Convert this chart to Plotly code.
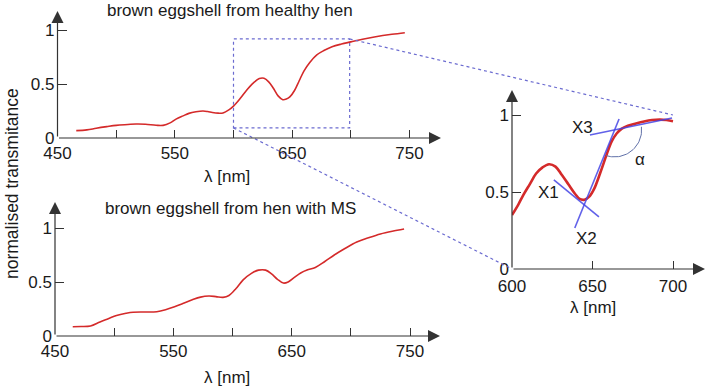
import numpy as np
import plotly.graph_objects as go

W, H = 709, 388

# ---------------- data ----------------
healthy_wl = [466, 475, 483, 492, 500, 510, 517, 525, 534, 540, 546, 551, 557, 562, 568, 574,
              578, 582, 587, 591, 596, 600, 606, 611, 617, 622, 626, 630, 634, 638, 642, 645,
              648, 652, 656, 660, 665, 671, 677, 684, 692, 700, 710, 720, 735, 746]
healthy_t = [0.068, 0.075, 0.09, 0.105, 0.117, 0.125, 0.13, 0.128, 0.118, 0.117, 0.14, 0.175,
             0.205, 0.228, 0.243, 0.25, 0.245, 0.236, 0.23, 0.232, 0.26, 0.295, 0.37, 0.44,
             0.51, 0.55, 0.553, 0.52, 0.46, 0.39, 0.355, 0.36, 0.38, 0.44, 0.53, 0.62, 0.70,
             0.77, 0.81, 0.845, 0.87, 0.89, 0.915, 0.935, 0.96, 0.975]

ms_wl = [465, 472, 480, 488, 495, 502, 510, 516, 526, 536, 544, 551, 558, 566, 573, 580, 586,
         592, 597, 603, 609, 616, 622, 628, 633, 638, 643, 647, 652, 658, 663, 670, 678, 686,
         695, 705, 715, 725, 735, 745]
ms_t = [0.086, 0.088, 0.093, 0.13, 0.16, 0.19, 0.21, 0.22, 0.222, 0.225, 0.245, 0.27, 0.30,
        0.335, 0.36, 0.37, 0.365, 0.358, 0.375, 0.44, 0.52, 0.58, 0.61, 0.61, 0.575, 0.525,
        0.49, 0.50, 0.54, 0.585, 0.61, 0.635, 0.69, 0.75, 0.81, 0.87, 0.91, 0.945, 0.97, 0.99]

zoom_wl = [600, 604, 607, 611, 615, 619, 623, 627, 631, 635, 639, 642, 645, 648, 651, 655,
           659, 662, 665, 668, 672, 677, 682, 687, 692, 696, 700]
zoom_t = [0.35, 0.42, 0.48, 0.55, 0.62, 0.66, 0.68, 0.665, 0.61, 0.55, 0.49, 0.455, 0.45,
          0.47, 0.52, 0.63, 0.75, 0.83, 0.88, 0.91, 0.93, 0.945, 0.958, 0.967, 0.97, 0.967, 0.96]

x1_wl, x1_t = [626, 654], [0.578, 0.338]
x2_wl, x2_t = [639, 666.5], [0.266, 0.974]
x3_wl, x3_t = [648.4, 699.4], [0.87, 0.98]

box_wl = [600, 699]
box_t = [0.093, 0.917]

main_tickvals = [450, 500, 550, 600, 650, 700, 750]
main_ticktext = ["450", "", "550", "", "650", "", "750"]
y_tickvals = [0, 0.5, 1]
y_ticktext = ["0", "0.5", "1"]
inset_tickvals = [600, 650, 700]
inset_ticktext = ["600", "650", "700"]

title_top = "brown eggshell from healthy hen"
title_bottom = "brown eggshell from hen with MS"
x_title = "λ [nm]"
y_title = "normalised transmitance"

# ---------------- layout geometry (pixels) ----------------
FONT = "Liberation Sans, Arial, sans-serif"
RED = "#d42a2a"
BLUE = "#4646e6"
DOT = "#6b6bd0"
AX = "#333333"
TXT = "#1a1a1a"
FS_TICK = 17
FS_TXT = 17


def panel(px_left, px_right, py_top, py_bottom, x0, x_per_px, y_per_px):
    xr = [x0, x0 + (px_right - px_left) * x_per_px]
    yr = [0, (py_bottom - py_top) * y_per_px]
    dx = [px_left / W, px_right / W]
    dy = [1 - py_bottom / H, 1 - py_top / H]
    return dict(xr=xr, yr=yr, dx=dx, dy=dy)


P1 = panel(57.5, 441, 11, 138, 450, 300 / 352.0, 1 / 108.0)
P2 = panel(55, 440, 202, 336, 450, 300 / 355.0, 1 / 108.0)
P3 = panel(512, 705, 90, 269, 600, 100 / 161.0, 1 / 154.0)


def to_paper(P, xv, yv):
    px = P["dx"][0] + (xv - P["xr"][0]) / (P["xr"][1] - P["xr"][0]) * (P["dx"][1] - P["dx"][0])
    py = P["dy"][0] + (yv - P["yr"][0]) / (P["yr"][1] - P["yr"][0]) * (P["dy"][1] - P["dy"][0])
    return px, py


fig = go.Figure()
fig.add_trace(go.Scatter(x=healthy_wl, y=healthy_t, mode="lines", line=dict(color=RED, width=1.6, shape="spline"),
                         xaxis="x", yaxis="y", showlegend=False, hoverinfo="skip"))
fig.add_trace(go.Scatter(x=ms_wl, y=ms_t, mode="lines", line=dict(color=RED, width=1.6, shape="spline"),
                         xaxis="x2", yaxis="y2", showlegend=False, hoverinfo="skip"))
fig.add_trace(go.Scatter(x=zoom_wl, y=zoom_t, mode="lines", line=dict(color=RED, width=2.6, shape="spline"),
                         xaxis="x3", yaxis="y3", showlegend=False, hoverinfo="skip"))
for lx, ly in [(x1_wl, x1_t), (x2_wl, x2_t), (x3_wl, x3_t)]:
    fig.add_trace(go.Scatter(x=lx, y=ly, mode="lines", line=dict(color=BLUE, width=1.6),
                             opacity=0.85, xaxis="x3", yaxis="y3", showlegend=False, hoverinfo="skip"))

# angle arc between X3 and X2 (computed in pixel space)
kx = (P3["dx"][1] - P3["dx"][0]) * W / (P3["xr"][1] - P3["xr"][0])
ky = (P3["dy"][1] - P3["dy"][0]) * H / (P3["yr"][1] - P3["yr"][0])


def intersect(a, b):
    (ax1, ax2), (ay1, ay2) = a
    (bx1, bx2), (by1, by2) = b
    ma = (ay2 - ay1) / (ax2 - ax1)
    mb = (by2 - by1) / (bx2 - bx1)
    xi = (by1 - ay1 + ma * ax1 - mb * bx1) / (ma - mb)
    return xi, ay1 + ma * (xi - ax1)


cx, cy = intersect((x2_wl, x2_t), (x3_wl, x3_t))
th1 = np.arctan2((x3_t[1] - cy) * ky, (x3_wl[1] - cx) * kx) - np.radians(5)
th2 = np.arctan2((x2_t[0] - cy) * ky, (x2_wl[0] - cx) * kx) + np.radians(4)
R = 27
th = np.linspace(th1, th2, 40)
arc_x = cx + R * np.cos(th) / kx
arc_y = cy + R * np.sin(th) / ky
fig.add_trace(go.Scatter(x=arc_x, y=arc_y, mode="lines", line=dict(color="#6070a8", width=1),
                         xaxis="x3", yaxis="y3", showlegend=False, hoverinfo="skip"))


def axis_common(tickvals, ticktext, anchor, domain, rng, yaxis=False, standoff=1):
    return dict(domain=domain, range=rng, anchor=anchor, showgrid=False, zeroline=False, showline=False,
                automargin=False,
                ticks="inside", ticklen=9 if yaxis else 8, tickwidth=1, tickcolor=AX,
                tickvals=tickvals, ticktext=ticktext, tickfont=dict(family=FONT, size=FS_TICK, color=TXT),
                ticklabelstandoff=standoff, fixedrange=True)


fig.update_layout(
    width=W, height=H, margin=dict(l=0, r=0, t=0, b=0, autoexpand=False),
    paper_bgcolor="white", plot_bgcolor="rgba(0,0,0,0)",
    font=dict(family=FONT, size=FS_TXT, color=TXT),
    xaxis=axis_common(main_tickvals, main_ticktext, "y", P1["dx"], P1["xr"], standoff=3),
    yaxis=axis_common(y_tickvals, y_ticktext, "x", P1["dy"], P1["yr"], True, standoff=2),
    xaxis2=axis_common(main_tickvals, main_ticktext, "y2", P2["dx"], P2["xr"], standoff=3),
    yaxis2=axis_common(y_tickvals, y_ticktext, "x2", P2["dy"], P2["yr"], True, standoff=2),
    xaxis3=axis_common(inset_tickvals, inset_ticktext, "y3", P3["dx"], P3["xr"], standoff=5),
    yaxis3=axis_common(y_tickvals, y_ticktext, "x3", P3["dy"], P3["yr"], True, standoff=2),
)

ann = []
# axis arrows
for i, P in [("", P1), ("2", P2), ("3", P3)]:
    xr, yr = P["xr"], P["yr"]
    common = dict(xref="x" + i, yref="y" + i, axref="x" + i, ayref="y" + i, text="", showarrow=True,
                  arrowhead=2, arrowsize=2.0, arrowwidth=1.2, arrowcolor=AX, standoff=0)
    ann.append(dict(x=xr[1], y=0, ax=xr[0], ay=0, **common))
    ann.append(dict(x=xr[0], y=yr[1], ax=xr[0], ay=0, **common))

# arc arrowheads
for k in (0, -1):
    j = 1 if k == 0 else -2
    ann.append(dict(x=arc_x[k], y=arc_y[k], ax=arc_x[j], ay=arc_y[j], xref="x3", yref="y3",
                    axref="x3", ayref="y3", text="", showarrow=True, arrowhead=2, arrowsize=1.3,
                    arrowwidth=1, arrowcolor="#6070a8", standoff=0))


def txt(x, y, s, size=FS_TXT, **kw):
    d = dict(x=x, y=y, xref="paper", yref="paper", text=s, showarrow=False,
             font=dict(family=FONT, size=size, color=TXT), xanchor="center", yanchor="middle")
    d.update(kw)
    ann.append(d)


txt(230 / W, 1 - 10 / H, title_top)
txt(230 / W, 1 - 208 / H, title_bottom)
txt(227 / W, 1 - 177 / H, x_title)
txt(227 / W, 1 - 377 / H, x_title)
txt(593 / W, 1 - 307 / H, x_title)
txt(12 / W, 1 - 184 / H, y_title, size=17.5, textangle=-90)

# inset labels
for lab, (lx, ly) in [("X1", (622.4, 0.494)), ("X2", (646.5, 0.195)), ("X3", (643.5, 0.918)), ("α", (679.5, 0.708))]:
    ann.append(dict(x=lx, y=ly, xref="x3", yref="y3", text=lab, showarrow=False,
                    font=dict(family=FONT, size=FS_TXT, color=TXT), xanchor="center", yanchor="middle"))

fig.update_layout(annotations=ann)

# zoom box and connecting dotted lines
shapes = [dict(type="rect", xref="x", yref="y", x0=box_wl[0], x1=box_wl[1], y0=box_t[0], y1=box_t[1],
               line=dict(color=DOT, width=1.2, dash="dot"))]
a = to_paper(P1, box_wl[1], box_t[1])
b = to_paper(P3, P3["xr"][0] + 100, 1.0)
shapes.append(dict(type="line", xref="paper", yref="paper", x0=a[0], y0=a[1], x1=b[0], y1=b[1],
                   line=dict(color=DOT, width=1.2, dash="dot")))
a = to_paper(P1, box_wl[0], box_t[0])
b = to_paper(P3, P3["xr"][0], 0.0)
shapes.append(dict(type="line", xref="paper", yref="paper", x0=a[0], y0=a[1], x1=b[0], y1=b[1],
                   line=dict(color=DOT, width=1.2, dash="dot")))
fig.update_layout(shapes=shapes)

fig.write_html("out.html", config={"displayModeBar": False},
               post_script="document.body.style.margin='0';document.body.style.overflow='hidden';")
